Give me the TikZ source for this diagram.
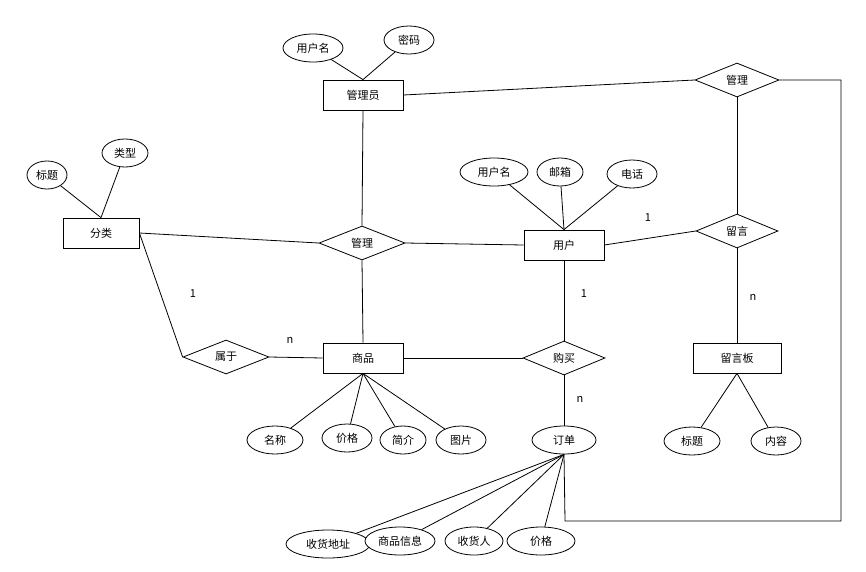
\documentclass[tikz,border=0pt]{standalone}
\usepackage{fontspec}
\setmainfont{Noto Sans CJK SC}
\usetikzlibrary{shapes.geometric}
\begin{document}
\begin{tikzpicture}[x=1pt,y=-1pt,
  every node/.style={font=\fontsize{11}{13}\selectfont, inner sep=0pt},
  ent/.style={draw, thick, minimum width=80pt, minimum height=30pt, fill=white},
  rel/.style={draw, thick, diamond, aspect=2.5, minimum width=84pt, minimum height=34pt, fill=white},
  att/.style={draw, thick, ellipse, minimum height=28pt, fill=white},
  lbl/.style={font=\fontsize{11}{13}\selectfont},
  line/.style={thick}]
\useasboundingbox (0,0) rectangle (866,571);
% entities
\node[ent] (admin) at (363,95) {管理员};
\node[ent, minimum width=76pt] (cat) at (101,233) {分类};
\node[ent] (user) at (564,245) {用户};
\node[ent] (goods) at (363,358) {商品};
\node[ent, minimum width=88pt] (board) at (737,358) {留言板};
% relations
\node[rel] (mg1) at (737,80) {管理};
\node[rel, minimum width=86pt] (mg2) at (362,243) {管理};
\node[rel, minimum width=82pt] (msg) at (737,231) {留言};
\node[rel, minimum width=86pt] (belong) at (226,357) {属于};
\node[rel, minimum width=82pt] (buy) at (564,358) {购买};
% attributes
\node[att, minimum width=60pt] (a1) at (313,48) {用户名};
\node[att, minimum width=50pt] (a2) at (409,40) {密码};
\node[att, minimum width=40pt] (c1) at (47,175) {标题};
\node[att, minimum width=46pt] (c2) at (125,153) {类型};
\node[att, minimum width=68pt] (u1) at (494,172) {用户名};
\node[att, minimum width=46pt] (u2) at (560,172) {邮箱};
\node[att, minimum width=50pt] (u3) at (632,174) {电话};
\node[att, minimum width=56pt] (g1) at (275,440) {名称};
\node[att, minimum width=50pt] (g2) at (347,438) {价格};
\node[att, minimum width=46pt] (g3) at (403,440) {简介};
\node[att, minimum width=50pt] (g4) at (461,440) {图片};
\node[att, minimum width=64pt] (order) at (564,440) {订单};
\node[att, minimum width=56pt] (b1) at (692,441) {标题};
\node[att, minimum width=50pt] (b2) at (776,441) {内容};
\node[att, minimum width=84pt] (o1) at (328,544) {收货地址};
\node[att, minimum width=70pt] (o2) at (400,541) {商品信息};
\node[att, minimum width=58pt] (o3) at (474,541) {收货人};
\node[att, minimum width=68pt] (o4) at (541,541) {价格};
% labels
\node[lbl] (l1) at (648,218) {1};
\node[lbl] (l2) at (193,294) {1};
\node[lbl] (l3) at (290,340) {n};
\node[lbl] (l4) at (584,294) {1};
\node[lbl] (l5) at (580,399) {n};
\node[lbl] (l6) at (753,297) {n};
\begin{scope}[on background layer/.style={}]
\end{scope}
% connectors
\begin{scope}[line]
\draw (admin.east) -- (mg1.west);
\draw (mg1.south) -- (msg.north);
\draw (admin.south) -- (mg2.north);
\draw (cat.east) -- (mg2.west);
\draw (mg2.east) -- (user.west);
\draw (mg2.south) -- (goods.north);
\draw (cat.east) -- (belong.west);
\draw (belong.east) -- (goods.west);
\draw (goods.east) -- (buy.west);
\draw (user.south) -- (buy.north);
\draw (buy.south) -- (order.north);
\draw (user.east) -- (msg.west);
\draw (msg.south) -- (board.north);
\coordinate (r1) at (841,80);
\coordinate (r2) at (841,521);
\coordinate (r3) at (565,521);
\draw (mg1.east) -- (r1) -- (r2) -- (r3) -- (order.south);
\draw (a1) -- (admin.north);
\draw (a2) -- (admin.north);
\draw (c1) -- (cat.north);
\draw (c2) -- (cat.north);
\draw (u1) -- (user.north);
\draw (u2) -- (user.north);
\draw (u3) -- (user.north);
\foreach \g in {g1,g2,g3,g4} \draw (\g) -- (goods.south);
\foreach \o in {o1,o2,o3,o4} \draw (\o) -- (order.south);
\draw (b1) -- (board.south);
\draw (b2) -- (board.south);
\end{scope}
\end{tikzpicture}
\end{document}
